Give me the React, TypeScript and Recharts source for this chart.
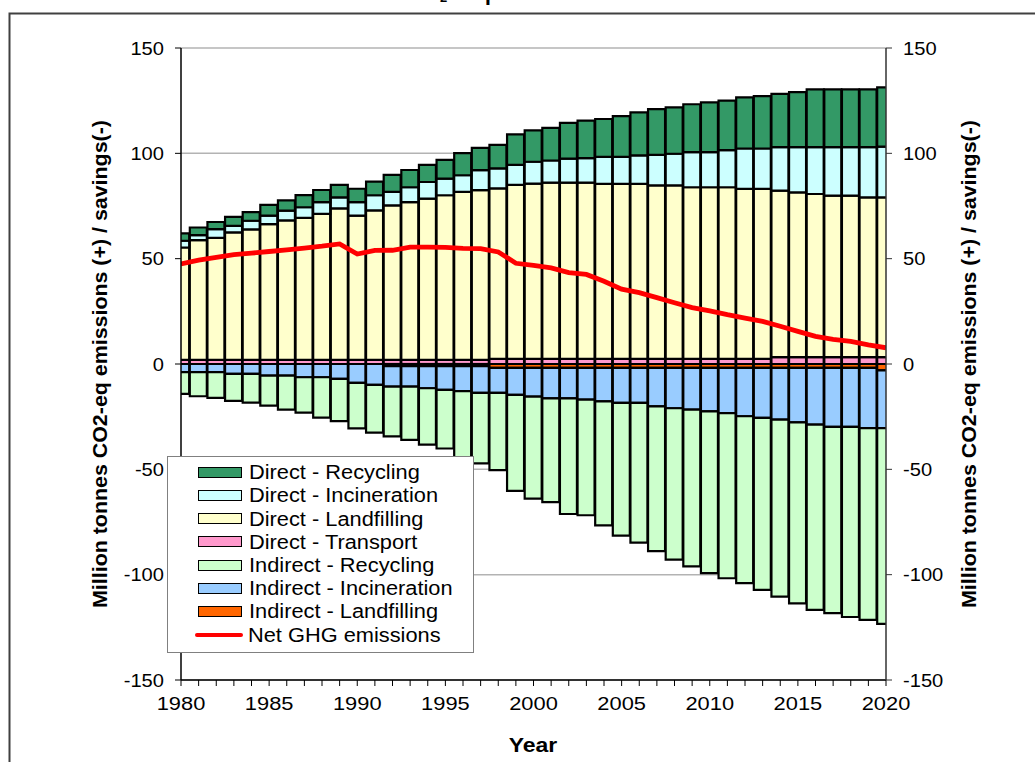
import React from 'react';
import { ComposedChart, Bar, Line, XAxis, YAxis, CartesianGrid, Label } from 'recharts';

const years = [
  1980, 1981, 1982, 1983, 1984, 1985, 1986, 1987, 1988, 1989,
  1990, 1991, 1992, 1993, 1994, 1995, 1996, 1997, 1998, 1999,
  2000, 2001, 2002, 2003, 2004, 2005, 2006, 2007, 2008, 2009,
  2010, 2011, 2012, 2013, 2014, 2015, 2016, 2017, 2018, 2019, 2020,
];

const directTransport = [
  2.0, 2.0, 2.0, 2.0, 2.0, 2.0, 2.0, 2.0, 2.0, 2.0,
  2.0, 2.0, 2.0, 2.0, 2.0, 2.0, 2.0, 2.0, 2.4, 2.4,
  2.4, 2.4, 2.4, 2.4, 2.4, 2.4, 2.4, 2.4, 2.4, 2.4,
  2.4, 2.4, 2.4, 2.4, 3.3, 3.3, 3.3, 3.3, 3.3, 3.3, 3.3,
];

const directLandfilling = [
  53.3, 56.8, 57.9, 60.5, 61.9, 64.4, 66.2, 67.4, 69.3, 71.9,
  68.4, 70.9, 73.3, 74.8, 76.5, 78.1, 79.7, 80.5, 81.0, 82.6,
  83.2, 83.7, 83.7, 83.7, 83.1, 83.1, 83.1, 82.4, 82.4, 81.5,
  81.5, 81.5, 80.7, 80.7, 79.0, 78.2, 77.4, 76.6, 76.6, 75.8, 75.8,
];

const directIncineration = [
  3.2, 2.4, 4.1, 3.1, 4.1, 4.0, 4.6, 5.0, 5.5, 5.2,
  6.4, 7.2, 6.4, 7.1, 7.9, 7.9, 7.9, 9.5, 9.5, 9.5,
  10.4, 10.5, 11.4, 11.6, 12.8, 12.8, 13.5, 14.5, 15.0, 16.7,
  16.7, 17.6, 19.2, 19.2, 20.6, 21.4, 22.2, 23.0, 23.0, 23.8, 24.1,
];

const directRecycling = [
  3.5, 3.6, 3.4, 4.2, 4.1, 5.1, 4.9, 5.8, 5.8, 5.9,
  6.4, 6.5, 8.1, 8.2, 8.1, 8.9, 10.5, 10.6, 11.1, 14.5,
  14.9, 15.5, 17.0, 17.8, 18.0, 19.4, 20.4, 21.7, 22.0, 22.7,
  23.6, 23.5, 24.3, 24.9, 25.3, 26.2, 27.5, 27.5, 27.5, 27.5, 28.1,
];

const indirectLandfilling = [
  0, 0, 0, 0, 0, 0, 0, 0, 0, 0,
  0, 0, -1.0, -1.0, -1.0, -1.0, -1.0, -1.0, -1.8, -1.8,
  -1.8, -1.8, -1.8, -1.8, -1.8, -1.8, -1.8, -1.8, -1.8, -1.8,
  -1.8, -1.8, -1.8, -1.8, -1.8, -1.8, -1.8, -1.8, -1.8, -1.8, -3.0,
];

const indirectIncineration = [
  -3.9, -3.9, -3.9, -4.7, -4.7, -5.5, -5.5, -6.3, -6.3, -7.1,
  -9.0, -9.9, -9.7, -9.7, -10.5, -11.3, -11.9, -12.7, -11.9, -12.9,
  -13.7, -14.5, -14.5, -15.1, -15.9, -16.7, -16.7, -18.3, -19.2, -19.9,
  -20.7, -21.5, -23.0, -23.8, -24.6, -25.9, -27.0, -28.0, -28.0, -28.6, -27.4,
];

const indirectRecycling = [
  -10.3, -11.4, -12.2, -12.8, -13.6, -14.3, -16.2, -16.8, -19.2, -20.0,
  -21.6, -22.7, -23.7, -25.3, -26.8, -27.8, -31.5, -33.5, -36.7, -45.5,
  -48.4, -49.3, -54.9, -54.9, -58.9, -63.0, -66.3, -68.7, -71.9, -74.4,
  -76.8, -78.4, -79.2, -81.6, -84.0, -85.9, -87.9, -88.5, -90.3, -91.1, -93.0,
];

const netEmissions = [
  47.5, 49.3, 50.6, 51.9, 52.6, 53.4, 54.2, 55.0, 55.9, 57.0,
  52.2, 53.9, 54.0, 55.5, 55.5, 55.4, 54.9, 54.8, 53.2, 47.8,
  46.8, 45.6, 43.4, 42.5, 39.3, 35.5, 33.9, 31.5, 29.1, 26.8,
  25.2, 23.4, 21.8, 20.2, 17.9, 15.5, 13.1, 11.7, 10.7, 9.1, 7.7,
];

const yTicks = [-150, -100, -50, 0, 50, 100, 150];

const COLORS = {
  dRec: '#339966',
  dInc: '#CCFFFF',
  dLand: '#FFFFCC',
  dTrans: '#FF99CC',
  iRec: '#CCFFCC',
  iInc: '#99CCFF',
  iLand: '#FF6600',
  net: '#FF0000',
};

const legendItems = [
  { label: 'Direct - Recycling', color: COLORS.dRec, kind: 'box' },
  { label: 'Direct - Incineration', color: COLORS.dInc, kind: 'box' },
  { label: 'Direct - Landfilling', color: COLORS.dLand, kind: 'box' },
  { label: 'Direct - Transport', color: COLORS.dTrans, kind: 'box' },
  { label: 'Indirect - Recycling', color: COLORS.iRec, kind: 'box' },
  { label: 'Indirect - Incineration', color: COLORS.iInc, kind: 'box' },
  { label: 'Indirect - Landfilling', color: COLORS.iLand, kind: 'box' },
  { label: 'Net GHG emissions', color: COLORS.net, kind: 'line' },
];

const data = years.map((year, i) => ({
  year,
  dTrans: directTransport[i],
  dLand: directLandfilling[i],
  dInc: directIncineration[i],
  dRec: directRecycling[i],
  iLand: indirectLandfilling[i],
  iInc: indirectIncineration[i],
  iRec: indirectRecycling[i],
  net: netEmissions[i],
}));

const FONT = '"Liberation Sans", Arial, sans-serif';

const XTick = (props: any) => {
  const { x, y, payload } = props;
  if (payload.value % 5 !== 0) return null;
  return (
    <g transform={`translate(${x},${y}) scale(1.15,1)`}>
      <text x={0} y={0} dy="0.71em" textAnchor="middle" fill="#000" fontSize={19} fontFamily={FONT}>
        {payload.value}
      </text>
    </g>
  );
};

const YTick = (props: any) => {
  const { x, y, payload, textAnchor } = props;
  return (
    <g transform={`translate(${x},${y}) scale(1.06,1)`}>
      <text x={0} y={0} dy="0.355em" textAnchor={textAnchor} fill="#000" fontSize={19} fontFamily={FONT}>
        {payload.value}
      </text>
    </g>
  );
};

const YLabel = (cx: number, cy: number) => () => (
  <g transform={`translate(${cx},${cy}) rotate(-90) scale(1.07,1)`}>
    <text x={0} y={0} textAnchor="middle" fill="#000" fontSize={20} fontWeight="bold" fontFamily={FONT}>
      Million tonnes CO2-eq emissions (+) / savings(-)
    </text>
  </g>
);

const XLabel = () => (
  <g transform="translate(533,752) scale(1.15,1)">
    <text x={0} y={0} textAnchor="middle" fill="#000" fontSize={20} fontWeight="bold" fontFamily={FONT}>
      Year
    </text>
  </g>
);

const barCommon = {
  stackId: 'a',
  stroke: '#000',
  strokeWidth: 2.2,
  isAnimationActive: false,
  barSize: 17,
};

export default function App() {
  return (
    <div style={{ position: 'fixed', left: 0, top: 0, width: 1035, height: 762, overflow: 'hidden', background: '#fff' }}>
      <svg width={1035} height={762} style={{ position: 'absolute', left: 0, top: 0 }}>
        <rect x={9.5} y={13.5} width={1200} height={1000} fill="none" stroke="#404040" strokeWidth={2} />
        <text x={440} y={2} fontSize={13} fontWeight="bold" fontFamily={FONT} fill="#000">2</text>
        <text x={491} y={0} textAnchor="end" fontSize={22} fontWeight="bold" fontFamily={FONT} fill="#000">-eq</text>
      </svg>
      <div style={{ position: 'absolute', left: 0, top: 0 }}>
        <ComposedChart
          width={1035}
          height={762}
          data={data}
          stackOffset="sign"
          margin={{ top: 48, right: 89, bottom: 52, left: 121 }}
        >
          <CartesianGrid vertical={false} stroke="#b3b3b3" strokeWidth={1.5} />
          <XAxis
            dataKey="year"
            type="number"
            domain={[1980, 2020]}
            allowDataOverflow
            ticks={years}
            interval={0}
            tick={<XTick />}
            tickSize={6}
            tickMargin={11}
            height={30}
            axisLine={{ stroke: '#000', strokeWidth: 1.5 }}
            tickLine={{ stroke: '#000', strokeWidth: 1 }}
          >
            <Label content={XLabel} />
          </XAxis>
          <YAxis
            yAxisId={0}
            domain={[-150, 150]}
            allowDataOverflow
            ticks={yTicks}
            interval={0}
            width={60}
            tickSize={6}
            tickMargin={11}
            tick={<YTick />}
            axisLine={{ stroke: '#000', strokeWidth: 1.5 }}
            tickLine={{ stroke: '#000', strokeWidth: 1 }}
          >
            <Label content={YLabel(107, 364)} />
          </YAxis>
          <YAxis
            yAxisId="right"
            orientation="right"
            domain={[-150, 150]}
            allowDataOverflow
            ticks={yTicks}
            interval={0}
            width={60}
            tickSize={6}
            tickMargin={11}
            tick={<YTick />}
            axisLine={{ stroke: '#333', strokeWidth: 1.5 }}
            tickLine={{ stroke: '#333', strokeWidth: 1 }}
          >
            <Label content={YLabel(976, 364)} />
          </YAxis>
          <Bar dataKey="dTrans" fill={COLORS.dTrans} {...barCommon} />
          <Bar dataKey="dLand" fill={COLORS.dLand} {...barCommon} />
          <Bar dataKey="dInc" fill={COLORS.dInc} {...barCommon} />
          <Bar dataKey="dRec" fill={COLORS.dRec} {...barCommon} />
          <Bar dataKey="iLand" fill={COLORS.iLand} {...barCommon} />
          <Bar dataKey="iInc" fill={COLORS.iInc} {...barCommon} />
          <Bar dataKey="iRec" fill={COLORS.iRec} {...barCommon} />
          <Line
            dataKey="net"
            type="linear"
            stroke={COLORS.net}
            strokeWidth={4.8}
            dot={false}
            isAnimationActive={false}
          />
          <Line
            yAxisId="right"
            dataKey="net"
            type="linear"
            stroke="none"
            strokeOpacity={0}
            dot={false}
            activeDot={false}
            legendType="none"
            isAnimationActive={false}
          />
        </ComposedChart>
      </div>
      <div
        style={{
          position: 'absolute',
          left: 167,
          top: 456,
          width: 307,
          height: 197,
          boxSizing: 'border-box',
          background: '#fff',
          border: '1.5px solid #808080',
          fontFamily: FONT,
          fontSize: 20,
          color: '#000',
        }}
      >
        {legendItems.map((it, i) => (
          <div
            key={it.label}
            style={{ position: 'absolute', left: 0, top: 15.2 + i * 23.2 - 12, height: 24, display: 'flex', alignItems: 'center' }}
          >
            {it.kind === 'box' ? (
              <div
                style={{
                  marginLeft: 30,
                  width: 44,
                  height: 11,
                  boxSizing: 'border-box',
                  background: it.color,
                  border: '1.5px solid #000',
                }}
              />
            ) : (
              <div style={{ marginLeft: 27, width: 48, height: 4, borderRadius: 2, background: it.color }} />
            )}
            <span
              style={{
                marginLeft: it.kind === 'box' ? 7 : 5,
                whiteSpace: 'nowrap',
                lineHeight: '24px',
                display: 'inline-block',
                transform: 'scaleX(1.09)',
                transformOrigin: 'left center',
              }}
            >
              {it.label}
            </span>
          </div>
        ))}
      </div>
    </div>
  );
}
